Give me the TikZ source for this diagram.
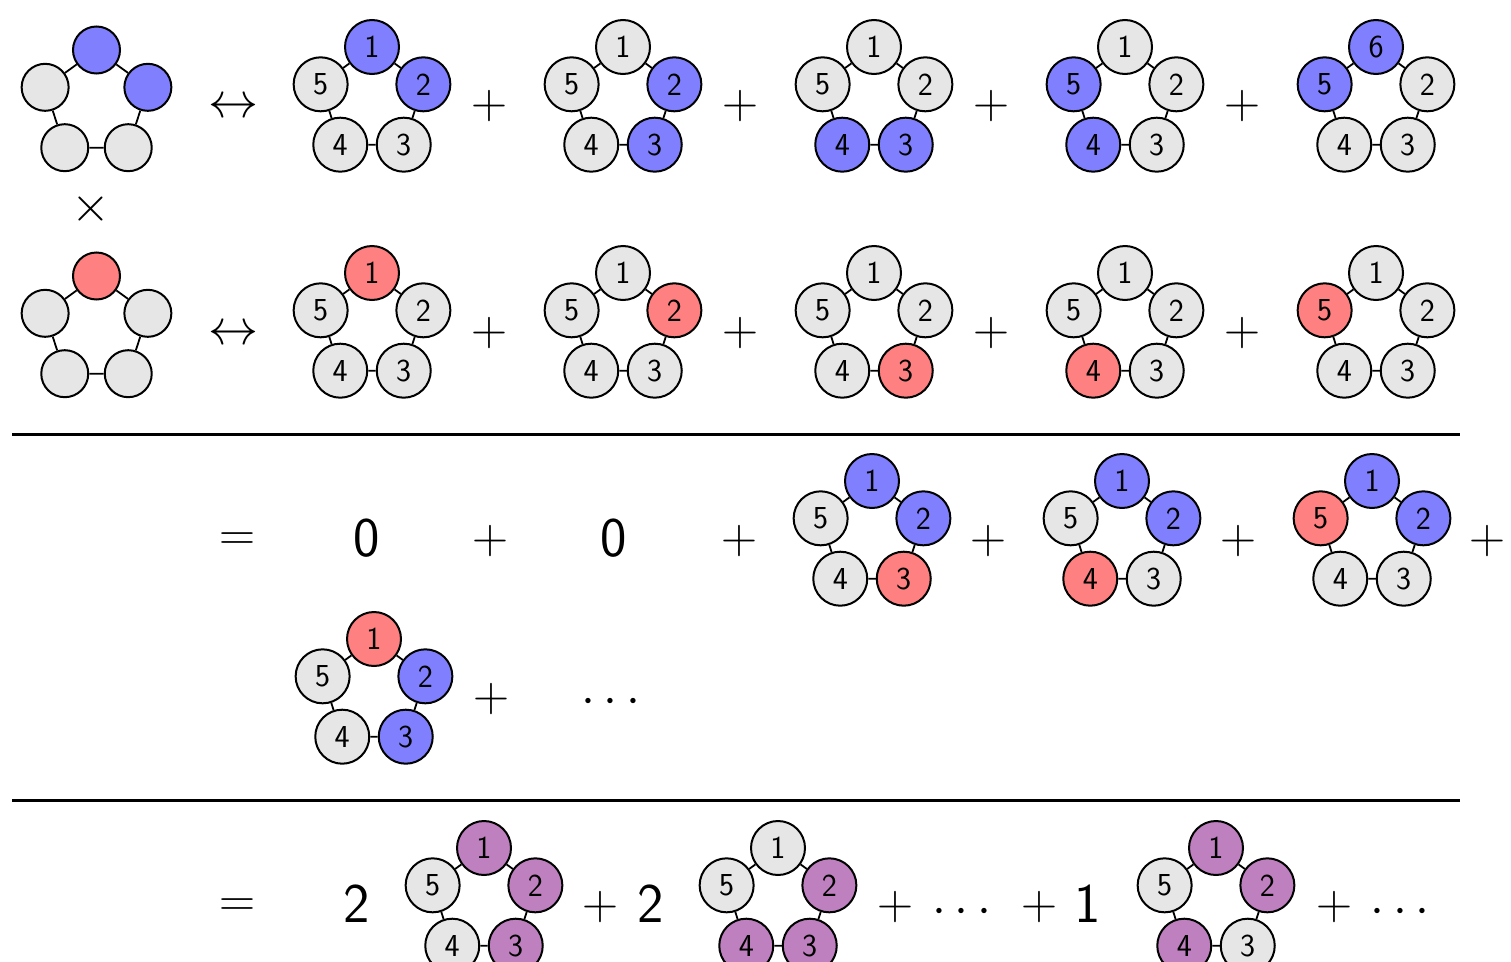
\RequirePackage{fix-cm}
\documentclass[tikz,border=0pt]{standalone}
\definecolor{pb}{RGB}{128,128,255}
\definecolor{pr}{RGB}{255,128,128}
\definecolor{pg}{RGB}{230,230,230}
\definecolor{pv}{RGB}{191,128,191}
\tikzset{
  ball/.style={circle,draw,line width=2pt,minimum size=54pt,inner sep=0pt,font=\fontsize{32}{32}\selectfont\sffamily},
  blankball/.style={circle,draw,line width=2pt,minimum size=47pt,inner sep=0pt},
  edge/.style={line width=1.8pt},
  sym/.style={inner sep=0pt,font=\fontsize{50}{50}\selectfont},
  bignum/.style={inner sep=0pt,font=\fontsize{56}{56}\selectfont\sffamily},
  hrule/.style={line width=3pt}
}
\newcommand\pent[9]{%
  \begin{scope}[shift={(#2,#3)}]
    \node[ball,fill=#4] (#1-1) at (0,-54) {#9};
    \node[ball,fill=#5] (#1-2) at (51.36,-16.69) {2};
    \node[ball,fill=#6] (#1-3) at (31.74,43.69) {3};
    \node[ball,fill=#7] (#1-4) at (-31.74,43.69) {4};
    \node[ball,fill=#8] (#1-5) at (-51.36,-16.69) {5};
    \draw[edge] (#1-1)--(#1-2) (#1-2)--(#1-3) (#1-3)--(#1-4) (#1-4)--(#1-5) (#1-5)--(#1-1);
  \end{scope}}
\newcommand\blankpent[8]{%
  \begin{scope}[shift={(#2,#3)}]
    \node[blankball,fill=#4] (#1-1) at (0,-54) {};
    \node[blankball,fill=#5] (#1-2) at (51.36,-16.69) {};
    \node[blankball,fill=#6] (#1-3) at (31.74,43.69) {};
    \node[blankball,fill=#7] (#1-4) at (-31.74,43.69) {};
    \node[blankball,fill=#8] (#1-5) at (-51.36,-16.69) {};
    \draw[edge] (#1-1)--(#1-2) (#1-2)--(#1-3) (#1-3)--(#1-4) (#1-4)--(#1-5) (#1-5)--(#1-1);
  \end{scope}}
\begin{document}
\begin{tikzpicture}[x=1pt,y=-1pt]
\useasboundingbox (0,0) rectangle (1511,961);
\clip (0,0) rectangle (1511,961);
\fill[white] (0,0) rectangle (1511,961);
% row 1
\blankpent{A}{96.5}{104}{pb}{pb}{pg}{pg}{pg}
\node[sym] (lr1) at (233,108) {$\leftrightarrow$};
\pent{P11}{372}{101}{pb}{pb}{pg}{pg}{pg}{1}
\node[sym] (p11) at (489,106) {$+$};
\pent{P12}{623}{101}{pg}{pb}{pb}{pg}{pg}{1}
\node[sym] (p12) at (740,106) {$+$};
\pent{P13}{874}{101}{pg}{pg}{pb}{pb}{pg}{1}
\node[sym] (p13) at (991,106) {$+$};
\pent{P14}{1125}{101}{pg}{pg}{pg}{pb}{pb}{1}
\node[sym] (p14) at (1242,106) {$+$};
\pent{P15}{1376}{101}{pb}{pg}{pg}{pg}{pb}{6}
% times
\node[sym] (times) at (91,209) {$\times$};
% row 2
\blankpent{B}{96.5}{330}{pr}{pg}{pg}{pg}{pg}
\node[sym] (lr2) at (233,335) {$\leftrightarrow$};
\pent{P21}{372}{327}{pr}{pg}{pg}{pg}{pg}{1}
\node[sym] (p21) at (489,333) {$+$};
\pent{P22}{623}{327}{pg}{pr}{pg}{pg}{pg}{1}
\node[sym] (p22) at (740,333) {$+$};
\pent{P23}{874}{327}{pg}{pg}{pr}{pg}{pg}{1}
\node[sym] (p23) at (991,333) {$+$};
\pent{P24}{1125}{327}{pg}{pg}{pg}{pr}{pg}{1}
\node[sym] (p24) at (1242,333) {$+$};
\pent{P25}{1376}{327}{pg}{pg}{pg}{pg}{pr}{1}
% rule 1
\coordinate (r1a) at (12,434);
\coordinate (r1b) at (1460,434);
\draw[hrule] (r1a) -- (r1b);
% row 3
\node[sym] (eq3) at (237,542) {$=$};
\node[bignum] (z1) at (367,538) {0};
\node[sym] (p31) at (490,541) {$+$};
\node[bignum] (z2) at (614,538) {0};
\node[sym] (p32) at (739,541) {$+$};
\pent{P31}{872}{535}{pb}{pb}{pr}{pg}{pg}{1}
\node[sym] (p33) at (988,541) {$+$};
\pent{P32}{1122}{535}{pb}{pb}{pg}{pr}{pg}{1}
\node[sym] (p34) at (1238,541) {$+$};
\pent{P33}{1372}{535}{pb}{pb}{pg}{pg}{pr}{1}
\node[sym] (p35) at (1487,541) {$+$};
% row 4
\pent{P41}{374}{693}{pr}{pb}{pb}{pg}{pg}{1}
\node[sym] (p41) at (491,699) {$+$};
\node[sym] (d41) at (611,702) {$\cdots$};
% rule 2
\coordinate (r2a) at (12,800);
\coordinate (r2b) at (1460,800);
\draw[hrule] (r2a) -- (r2b);
% row 5
\node[sym] (eq5) at (237,908) {$=$};
\node[bignum] (c1) at (357,904) {2};
\pent{P51}{484}{902}{pv}{pv}{pv}{pg}{pg}{1}
\node[sym] (p51) at (600,907) {$+$};
\node[bignum] (c2) at (651,904) {2};
\pent{P52}{778}{902}{pg}{pv}{pv}{pv}{pg}{1}
\node[sym] (p52) at (895,907) {$+$};
\node[sym] (d51) at (962,912) {$\cdots$};
\node[sym] (p53) at (1039,907) {$+$};
\node[bignum] (c3) at (1088,904) {1};
\pent{P53}{1216}{902}{pv}{pv}{pg}{pv}{pg}{1}
\node[sym] (p54) at (1334,907) {$+$};
\node[sym] (d52) at (1400,912) {$\cdots$};
\end{tikzpicture}
\end{document}
